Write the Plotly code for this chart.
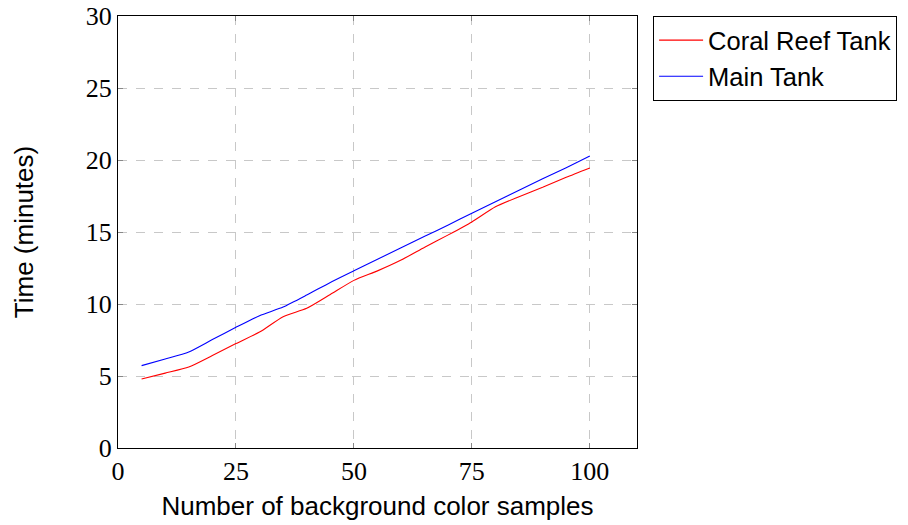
import plotly.graph_objects as go

samples = [5, 10, 15, 20, 25, 30, 35, 40, 45, 50, 55, 60, 65, 70, 75, 80, 85, 90, 95, 100]
coral_reef = [4.79, 5.2, 5.62, 6.42, 7.25, 8.05, 9.12, 9.7, 10.66, 11.64, 12.3, 13.05, 13.94, 14.8, 15.7, 16.75, 17.45, 18.1, 18.8, 19.45]
main_tank = [5.72, 6.18, 6.67, 7.53, 8.38, 9.19, 9.79, 10.62, 11.5, 12.31, 13.11, 13.9, 14.7, 15.49, 16.3, 17.1, 17.9, 18.7, 19.47, 20.28]

x_ticks = [0, 25, 50, 75, 100]
y_ticks = [0, 5, 10, 15, 20, 25, 30]

fig = go.Figure()
fig.add_trace(go.Scatter(x=samples, y=coral_reef, mode="lines", name="Coral Reef Tank",
                         line=dict(color="#ff0000", width=1.1, shape="spline", smoothing=0.6)))
fig.add_trace(go.Scatter(x=samples, y=main_tank, mode="lines", name="Main Tank",
                         line=dict(color="#0000ff", width=1.1, shape="spline", smoothing=0.6)))

tick_font = dict(family="Liberation Serif, serif", size=26, color="black")
title_font = dict(family="Liberation Sans, Arial, sans-serif", size=26, color="black")

fig.update_layout(
    width=908, height=525,
    margin=dict(l=118, r=271, t=16, b=77, autoexpand=False),
    paper_bgcolor="white", plot_bgcolor="white",
    showlegend=True,
    legend=dict(x=1.031, y=1.0, xanchor="left", yanchor="top",
                bordercolor="black", borderwidth=1, bgcolor="white",
                font=dict(family="Liberation Sans, Arial, sans-serif", size=25.5, color="black"),
                tracegroupgap=0, itemwidth=44),
    xaxis=dict(range=[0, 110], tickvals=x_ticks, ticktext=[str(v) for v in x_ticks],
               showgrid=True, gridcolor="#c8c8c8", griddash="dash", gridwidth=1,
               showline=True, linecolor="black", linewidth=1, mirror="allticks",
               ticks="inside", ticklen=5, tickcolor="#888888",
               tickfont=tick_font, zeroline=False,
               title=dict(text="Number of background color samples", font=title_font, standoff=11)),
    yaxis=dict(range=[0, 30], tickvals=y_ticks, ticktext=[str(v) for v in y_ticks],
               showgrid=True, gridcolor="#c8c8c8", griddash="dash", gridwidth=1,
               showline=True, linecolor="black", linewidth=1, mirror="allticks",
               ticks="inside", ticklen=5, tickcolor="#888888",
               tickfont=tick_font, zeroline=False,
               title=dict(text="Time (minutes)", font=title_font, standoff=44)),
)

fig.write_html("out.html")
